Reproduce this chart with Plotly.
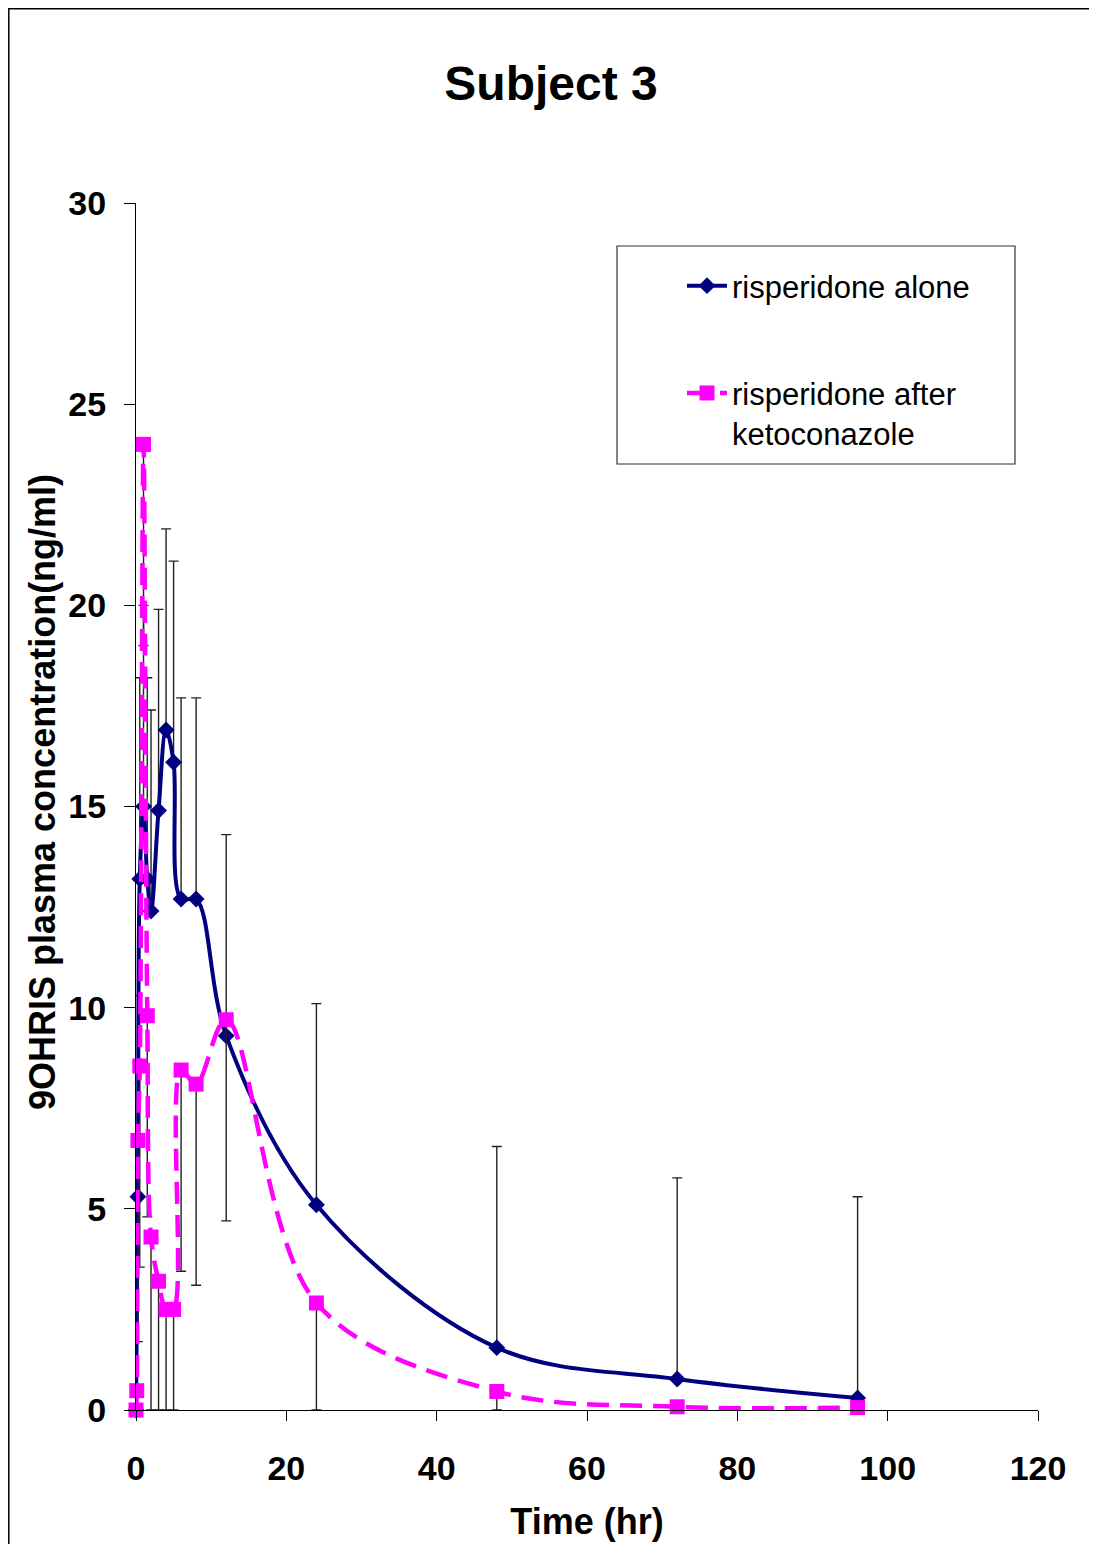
import plotly.graph_objects as go

# ---- data ----
blue_name = "risperidone alone"
blue_t = [0, 0.25, 0.5, 1, 1.5, 2, 3, 4, 5, 6, 8, 12, 24, 48, 72, 96]
blue_y = [0, 5.3, 13.2, 15.0, 13.2, 12.4, 14.9, 16.9, 16.1, 12.7, 12.7, 9.3, 5.1, 1.55, 0.77, 0.3]
blue_err_plus = [0, 5.0, 5.0, 5.0, 5.0, 5.0, 5.0, 5.0, 5.0, 5.0, 5.0, 5.0, 5.0, 5.0, 5.0, 5.0]

pink_name = "risperidone after<br>ketoconazole"
pink_t = [0, 0.1, 0.25, 0.5, 1, 1.5, 2, 3, 4, 5, 6, 8, 12, 24, 48, 72, 96]
pink_y = [0, 0.48, 6.7, 8.55, 24.0, 9.8, 4.3, 3.2, 2.5, 2.5, 8.45, 8.1, 9.7, 2.66, 0.46, 0.08, 0.06]
pink_err_minus = [0, 0, 5.0, 5.0, 5.0, 5.0, 5.0, 5.0, 5.0, 5.0, 5.0, 5.0, 5.0, 5.0, 5.0, 5.0, 5.0]

x_ticks = [0, 20, 40, 60, 80, 100, 120]
y_ticks = [0, 5, 10, 15, 20, 25, 30]

title_text = "Subject 3"
x_title = "Time (hr)"
y_title = "9OHRIS plasma concentration(ng/ml)"

# error bars are clipped at the x axis (value floor of 0)
pink_err_minus_clipped = [min(e, v) for e, v in zip(pink_err_minus, pink_y)]

FONT = "Liberation Sans, Arial, sans-serif"
BLUE = "#000080"
PINK = "#FF00FF"
ERR = "#222222"

fig = go.Figure()
fig.add_trace(go.Scatter(
    x=blue_t, y=blue_y, name=blue_name, legendgroup="a",
    mode="lines+markers", line=dict(color=BLUE, width=4, shape="spline", smoothing=1.0),
    marker=dict(symbol="diamond", size=13, color=BLUE),
    error_y=dict(type="data", symmetric=False, array=blue_err_plus,
                 arrayminus=[0] * len(blue_t), color=ERR, thickness=1.4, width=5),
    cliponaxis=False,
))
fig.add_trace(go.Scatter(
    x=pink_t, y=pink_y, name=pink_name, legendgroup="b",
    mode="lines+markers", line=dict(color=PINK, width=4.5, dash="22px,11px", shape="spline", smoothing=1.0),
    marker=dict(symbol="square", size=15, color=PINK),
    error_y=dict(type="data", symmetric=False, array=[0] * len(pink_t),
                 arrayminus=pink_err_minus_clipped, color=ERR, thickness=1.4, width=5),
    cliponaxis=False,
))

# page body has an 8px offset; positions below are in reference pixels
OFF = 8
W, H = 1097 - OFF, 1544 - OFF
L, R, T, B = 136 - OFF, (W + OFF) - 1038, 203 - OFF, (H + OFF) - 1410
pw, ph = W - L - R, H - T - B

def px2x(px):
    return (px - OFF - L) / pw

def px2y(py):
    return (H - B - (py - OFF)) / ph

shapes = [
    # outer chart frame
    dict(type="rect", xref="paper", yref="paper",
         x0=px2x(8.8), x1=px2x(1110), y0=px2y(1560), y1=px2y(8.8),
         line=dict(color="black", width=1.5), layer="below"),
    # legend frame
    dict(type="rect", xref="paper", yref="paper",
         x0=px2x(617), x1=px2x(1015), y0=px2y(464), y1=px2y(246),
         line=dict(color="#333333", width=1.2), fillcolor="rgba(0,0,0,0)"),
]

annotations = [
    dict(text="<b>" + y_title + "</b>", textangle=-90, showarrow=False,
         xref="paper", yref="paper", x=px2x(42), y=px2y(792),
         xanchor="center", yanchor="middle",
         font=dict(size=36, family=FONT, color="black")),
]

fig.update_layout(
    width=W, height=H,
    margin=dict(l=L, r=R, t=T, b=B, autoexpand=False),
    paper_bgcolor="white", plot_bgcolor="white",
    font=dict(family=FONT, color="black"),
    title=dict(text="<b>" + title_text + "</b>", font=dict(size=48, family=FONT, color="black"),
               x=(551 - OFF) / W, xref="container", xanchor="center",
               y=1 - (83 - OFF) / H, yref="container", yanchor="middle"),
    shapes=shapes,
    annotations=annotations,
    showlegend=True,
    legend=dict(x=px2x(682), y=px2y(259), xanchor="left", yanchor="top",
                bgcolor="rgba(0,0,0,0)", borderwidth=0,
                font=dict(size=31, family=FONT, color="black"),
                tracegroupgap=64, valign="top", itemwidth=40),
)

fig.update_xaxes(
    range=[0, 120], tickvals=x_ticks, ticktext=["<b>%d</b>" % v for v in x_ticks],
    showline=True, linecolor="black", linewidth=1.3, mirror=False,
    ticks="outside", ticklen=10, tickwidth=1.3, tickcolor="black",
    showgrid=False, zeroline=False,
    tickfont=dict(size=34, family=FONT, color="black"), ticklabelstandoff=18,
    title=dict(text="<b>" + x_title + "</b>", font=dict(size=36, family=FONT, color="black"), standoff=22),
    automargin=False,
)
fig.update_yaxes(
    range=[0, 30], tickvals=y_ticks, ticktext=["<b>%d</b>" % v for v in y_ticks],
    showline=True, linecolor="black", linewidth=1.3, mirror=False,
    ticks="outside", ticklen=11, tickwidth=1.3, tickcolor="black",
    showgrid=False, zeroline=False,
    tickfont=dict(size=34, family=FONT, color="black"), ticklabelstandoff=11,
    automargin=False,
)

fig.write_html("out.html")
